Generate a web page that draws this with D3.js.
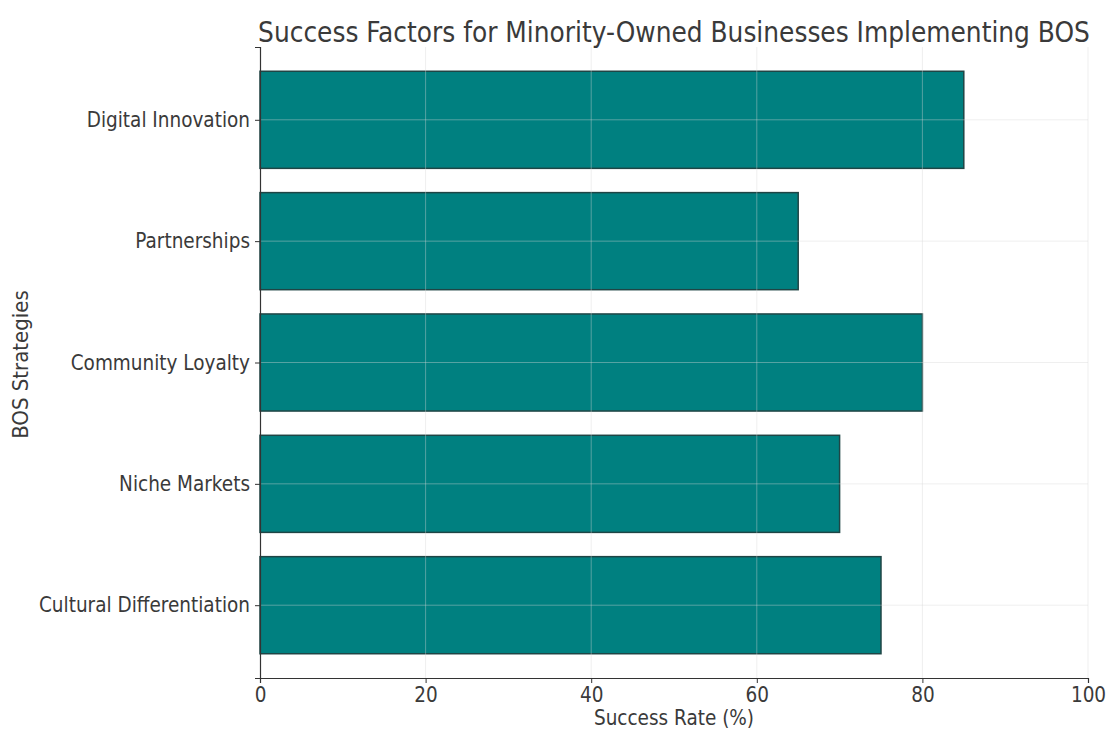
<!DOCTYPE html>
<html><head><meta charset="utf-8">
<script src="https://cdn.jsdelivr.net/npm/d3@7"></script>
<style>body{margin:0;background:#fff}svg{display:block}text{font-family:"DejaVu Sans Condensed","DejaVu Sans",sans-serif;font-stretch:condensed;fill:#3a3a3a}</style>
</head><body><svg id="c" width="1110" height="732"></svg>
<script>
const categories = ["Cultural Differentiation","Niche Markets","Community Loyalty","Partnerships","Digital Innovation"];
const values = [75, 70, 80, 65, 85];
const xTicks = [0, 20, 40, 60, 80, 100];
const title = "Success Factors for Minority-Owned Businesses Implementing BOS";
const xLabel = "Success Rate (%)";
const yLabel = "BOS Strategies";

const svg = d3.select("#c");
const m = {left:260, right:1088, top:47, bottom:678};
const x = d3.scaleLinear().domain([0,100]).range([m.left, m.right]);
const y = d3.scaleLinear().domain([-0.6, categories.length - 0.4]).range([m.bottom, m.top]);
const barH = (y(0) - y(0.8));

svg.append("g").selectAll("rect").data(categories).join("rect")
  .attr("x", x(0)).attr("y", (d,i)=>y(i) - barH/2)
  .attr("width", (d,i)=>x(values[i]) - x(0)).attr("height", barH)
  .attr("fill", "#008080").attr("stroke", "#1f4545").attr("stroke-width", 1.5);

const grid = svg.append("g").attr("stroke", "#d8d8d8").attr("stroke-opacity", 0.4).attr("stroke-width", 1);
grid.selectAll(".gx").data(xTicks.slice(1)).join("line")
  .attr("x1", d=>x(d)).attr("x2", d=>x(d)).attr("y1", m.top).attr("y2", m.bottom);
grid.selectAll(".gy").data(categories).join("line")
  .attr("x1", m.left).attr("x2", m.right).attr("y1", (d,i)=>y(i)).attr("y2", (d,i)=>y(i));

const xAxis = d3.axisBottom(x).tickValues(xTicks).tickSize(5).tickPadding(4);
const gx = svg.append("g").attr("transform", `translate(0,${m.bottom})`).call(xAxis);
gx.select(".domain").attr("stroke", "#333").attr("stroke-width", 1.2);
gx.selectAll(".tick line").attr("stroke", "#333");
gx.selectAll(".tick text").attr("font-size", 20.5).attr("fill", "#3a3a3a").attr("dy", "0.75em");

const yAxis = d3.axisLeft(y).tickValues(d3.range(categories.length)).tickFormat(i=>categories[i]).tickSize(5).tickPadding(5);
const gy = svg.append("g").attr("transform", `translate(${m.left},0)`).call(yAxis);
gy.select(".domain").attr("stroke", "#333").attr("stroke-width", 1.2);
gy.selectAll(".tick line").attr("stroke", "#333");
gy.selectAll(".tick text").attr("font-size", 20.5).attr("fill", "#3a3a3a");
svg.selectAll("g").attr("font-family", null);

svg.append("text").attr("x", (m.left+m.right)/2).attr("y", 42).attr("text-anchor", "middle")
  .attr("font-size", 27.7).text(title);
svg.append("text").attr("x", (m.left+m.right)/2).attr("y", 725).attr("text-anchor", "middle")
  .attr("font-size", 20.5).text(xLabel);
svg.append("text").attr("transform", `translate(28,${(m.top+m.bottom)/2 + 2}) rotate(-90)`).attr("text-anchor", "middle")
  .attr("font-size", 22).text(yLabel);
</script></body></html>
